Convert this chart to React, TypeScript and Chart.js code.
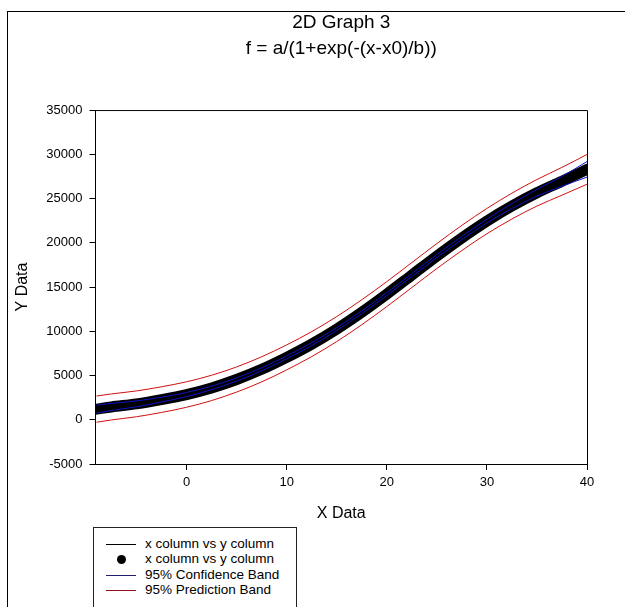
import React, { useEffect, useRef } from "react";
import { Chart, registerables } from "chart.js";

Chart.register(...registerables);

// ---- data ----
const xValues = [-9, -7.5, -5, -2.5, 0, 2.5, 5, 7.5, 10, 12.5, 15, 17.5, 20, 22.5, 25, 27.5, 30, 32.5, 35, 37.5, 40];
const yData = [1200, 1450, 1800, 2280, 2850, 3600, 4550, 5700, 7050, 8550, 10250, 12150, 14200, 16350, 18500, 20550, 22450, 24150, 25650, 26950, 28300];
const fitValues = [1200, 1450, 1800, 2280, 2850, 3600, 4550, 5700, 7050, 8550, 10250, 12150, 14200, 16350, 18500, 20550, 22450, 24150, 25650, 26950, 28300];
const confUpper = [1650, 1850, 2130, 2550, 3080, 3800, 4730, 5870, 7210, 8710, 10410, 12310, 14360, 16510, 18670, 20730, 22660, 24430, 26030, 27510, 29180];
const confLower = [750, 1050, 1470, 2010, 2620, 3400, 4370, 5530, 6890, 8390, 10090, 11990, 14040, 16190, 18330, 20370, 22240, 23870, 25270, 26390, 27420];
const predUpper = [2680, 2920, 3260, 3730, 4290, 5030, 5970, 7120, 8460, 9960, 11660, 13560, 15610, 17760, 19910, 21970, 23880, 25610, 27150, 28520, 29980];
const predLower = [-280, -20, 340, 830, 1410, 2170, 3130, 4280, 5640, 7140, 8840, 10740, 12790, 14940, 17090, 19130, 21020, 22690, 24150, 25380, 26620];
const xTicks = [0, 10, 20, 30, 40];
const yTicks = [-5000, 0, 5000, 10000, 15000, 20000, 25000, 30000, 35000];
const titleLines = ["2D Graph 3", "f = a/(1+exp(-(x-x0)/b))"];
const legendLabels = ["x column vs y column", "x column vs y column", "95% Confidence Band", "95% Prediction Band"];

const FONT = "'Liberation Sans', Arial, sans-serif";
const BLUE = "#1010c8";
const RED = "#d01010";

const pts = (ys: number[]) => xValues.map((x, i) => ({ x, y: ys[i] }));

const boxPlugin = {
  id: "plotBox",
  afterDraw(chart: any) {
    const { ctx, chartArea } = chart;
    ctx.save();
    ctx.strokeStyle = "#000";
    ctx.lineWidth = 1;
    ctx.beginPath();
    ctx.moveTo(chartArea.left, chartArea.top + 0.5);
    ctx.lineTo(chartArea.right + 0.5, chartArea.top + 0.5);
    ctx.lineTo(chartArea.right + 0.5, chartArea.bottom);
    ctx.stroke();
    ctx.restore();
  },
};

export default function App() {
  const ref = useRef<HTMLCanvasElement | null>(null);

  useEffect(() => {
    if (!ref.current) return;
    const lineBase = {
      showLine: true,
      pointRadius: 0,
      borderWidth: 1,
      fill: false,
      cubicInterpolationMode: "monotone" as const,
    };
    const chart = new Chart(ref.current, {
      type: "scatter",
      data: {
        datasets: [
          { ...lineBase, label: legendLabels[0], data: pts(fitValues), borderColor: "#000" },
          { ...lineBase, label: legendLabels[2], data: pts(confUpper), borderColor: BLUE },
          { ...lineBase, label: legendLabels[2] + " lower", data: pts(confLower), borderColor: BLUE },
          { ...lineBase, label: legendLabels[3], data: pts(predUpper), borderColor: RED },
          { ...lineBase, label: legendLabels[3] + " lower", data: pts(predLower), borderColor: RED },
          {
            ...lineBase,
            label: legendLabels[1],
            data: pts(yData),
            borderColor: "#000",
            backgroundColor: "#000",
            borderWidth: 11,
            borderCapStyle: "round",
            borderJoinStyle: "round",
            pointRadius: 0,
          },
        ],
      },
      options: {
        animation: false,
        responsive: false,
        devicePixelRatio: 1,
        events: [],
        layout: { padding: { left: 0, right: 38, top: 0, bottom: 84 } },
        plugins: {
          legend: { display: false },
          tooltip: { enabled: false },
          title: {
            display: true,
            fullSize: false,
            text: titleLines,
            color: "#000",
            font: { family: FONT, size: 19, weight: "normal", lineHeight: 1.37 },
            padding: { top: 10, bottom: 48 },
          },
        },
        scales: {
          x: {
            type: "linear",
            min: -9.1,
            max: 40,
            afterBuildTicks: (scale: any) => {
              scale.ticks = xTicks.map((v) => ({ value: v }));
            },
            afterFit: (scale: any) => {
              scale.height = 59;
            },
            grid: { display: true, drawOnChartArea: false, drawTicks: true, tickLength: 6, color: "#000" },
            border: { display: true, color: "#000", width: 1 },
            ticks: { color: "#000", font: { family: FONT, size: 13 }, padding: 5, maxRotation: 0 },
            title: {
              display: true,
              text: "X Data",
              color: "#000",
              font: { family: FONT, size: 16 },
              padding: { top: 13, bottom: 0 },
            },
          },
          y: {
            type: "linear",
            min: -5000,
            max: 35000,
            afterBuildTicks: (scale: any) => {
              scale.ticks = yTicks.map((v) => ({ value: v }));
            },
            afterFit: (scale: any) => {
              scale.width = 95.5;
            },
            grid: { display: true, drawOnChartArea: false, drawTicks: true, tickLength: 6, color: "#000" },
            border: { display: true, color: "#000", width: 1 },
            ticks: { color: "#000", font: { family: FONT, size: 13 }, padding: 7, callback: (v: any) => String(v) },
            title: {
              display: true,
              text: "Y Data",
              color: "#000",
              font: { family: FONT, size: 16 },
              padding: { top: 13, bottom: 0 },
            },
          },
        },
      },
      plugins: [boxPlugin],
    } as any);
    return () => chart.destroy();
  }, []);

  const rowStyle: React.CSSProperties = {
    position: "absolute",
    left: 0,
    height: 16,
    display: "flex",
    alignItems: "center",
    width: 200,
  };
  const sample = (color: string) => (
    <div style={{ width: 30, height: 0, borderTop: `1px solid ${color}`, marginLeft: 12, marginRight: 9 }} />
  );
  const rows = [
    { top: 8, el: sample("#000") },
    {
      top: 23,
      el: (
        <div style={{ width: 30, marginLeft: 12, marginRight: 9, display: "flex", justifyContent: "center" }}>
          <div style={{ width: 9, height: 9, borderRadius: "50%", background: "#000" }} />
        </div>
      ),
    },
    { top: 39, el: sample("#20206a") },
    { top: 54, el: sample("#8a1020") },
  ];

  return (
    <div style={{ position: "fixed", left: 0, top: 0, width: 625, height: 607, overflow: "hidden", background: "#fff" }}>
      <div style={{ position: "absolute", left: 7, top: 11, width: 700, height: 700, border: "1px solid #000" }} />
      <canvas ref={ref} width={625} height={607} style={{ position: "absolute", left: 0, top: 0, width: 625, height: 607 }} />
      <div
        style={{
          position: "absolute",
          left: 93,
          top: 527,
          width: 202,
          height: 100,
          border: "1px solid #222",
          background: "#fff",
          fontFamily: FONT,
          fontSize: 13.5,
          color: "#000",
        }}
      >
        {rows.map((r, i) => (
          <div key={i} style={{ ...rowStyle, top: r.top }}>
            {r.el}
            <span style={{ whiteSpace: "nowrap", lineHeight: "16px" }}>{legendLabels[i]}</span>
          </div>
        ))}
      </div>
    </div>
  );
}
